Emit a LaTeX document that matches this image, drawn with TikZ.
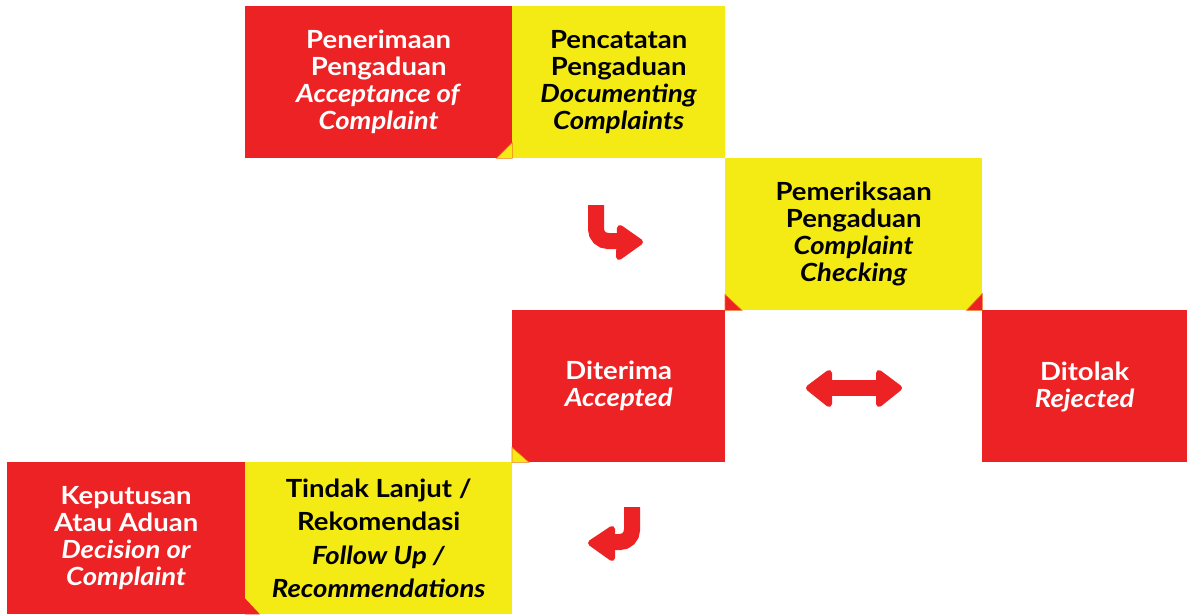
\documentclass[tikz,border=0pt]{standalone}
\usepackage{fontspec}
\setmainfont{Lato}[FakeStretch=1.1]
\definecolor{cred}{RGB}{237,34,36}
\definecolor{cyel}{RGB}{245,235,20}
\definecolor{corg}{RGB}{240,120,30}
\begin{document}
\begin{tikzpicture}[x=1pt,y=-1pt,
  box/.style={rectangle, inner sep=0pt, anchor=north west, align=center,
    minimum height=152pt, font=\fontsize{25}{27}\selectfont\bfseries},
  redbox/.style={box, fill=cred, text=white},
  yelbox/.style={box, fill=cyel, text=black},
  arr/.style={draw=cred, line width=16pt},
  head/.style={fill=cred, draw=cred, line width=6pt, line join=round},
  tri/.style={line width=0.6pt, draw=corg}]
\useasboundingbox (0,0) rectangle (1187,614);

\node[redbox, minimum width=267pt] (b1) at (245,6)
  {Penerimaan\\Pengaduan\\\textit{Acceptance of}\\\textit{Complaint}};
\node[yelbox, minimum width=213pt] (b2) at (512,6)
  {Pencatatan\\Pengaduan\\\textit{Documenting}\\\textit{Complaints}};
\node[yelbox, minimum width=257pt] (b3) at (725,158)
  {Pemeriksaan\\Pengaduan\\\textit{Complaint}\\\textit{Checking}};
\node[redbox, minimum width=213pt] (b4) at (512,310)
  {Diterima\\\textit{Accepted}};
\node[redbox, minimum width=205pt] (b5) at (982,310)
  {\rule{0pt}{20pt}Ditolak\\\textit{Rejected}};
\node[redbox, minimum width=238pt] (b6) at (7,462)
  {Keputusan\\Atau Aduan\\\textit{Decision or}\\\textit{Complaint}};
\node[yelbox, minimum width=267pt, font=\fontsize{25}{33.5}\selectfont\bfseries] (b7) at (245,462)
  {Tindak Lanjut /\\Rekomendasi\\\textit{Follow Up /}\\\textit{Recommendations}};

% corner triangles
\filldraw[tri, fill=cyel] (b1.south east) -- ++(0,-16) -- ++(-16,16) -- cycle;
\filldraw[tri, fill=cred] (b3.south west) -- ++(0,-16) -- ++(17,16) -- cycle;
\filldraw[tri, fill=cred] (b3.south east) -- ++(0,-17) -- ++(-16,17) -- cycle;
\filldraw[tri, fill=cyel] (b4.south west) -- ++(0,-15) -- ++(17,15) -- cycle;
\fill[cred] (b7.south west) -- ++(0,-16) -- ++(15,16) -- cycle;

% arrow 1 (down then right)
\coordinate (a1s) at (596,205);
\coordinate (a1c) at (596,241);
\coordinate (a1e) at (626,241);
\draw[arr, rounded corners=12pt] (a1s) -- (a1c) -- (a1e);
\filldraw[head] (620,228) -- (640,242) -- (619,257) -- cycle;

% double arrow
\coordinate (a2l) at (826,388);
\coordinate (a2r) at (884,388);
\draw[arr] (a2l) -- (a2r);
\filldraw[head] (829,373) -- (809,388) -- (829,404) -- cycle;
\filldraw[head] (879,373) -- (899,388) -- (879,404) -- cycle;

% arrow 3 (down then left)
\coordinate (a3s) at (632,507);
\coordinate (a3c) at (632,542);
\coordinate (a3e) at (605,542);
\draw[arr, rounded corners=12pt] (a3s) -- (a3c) -- (a3e);
\filldraw[head] (612,529) -- (591,543) -- (612,558) -- cycle;
\end{tikzpicture}
\end{document}
